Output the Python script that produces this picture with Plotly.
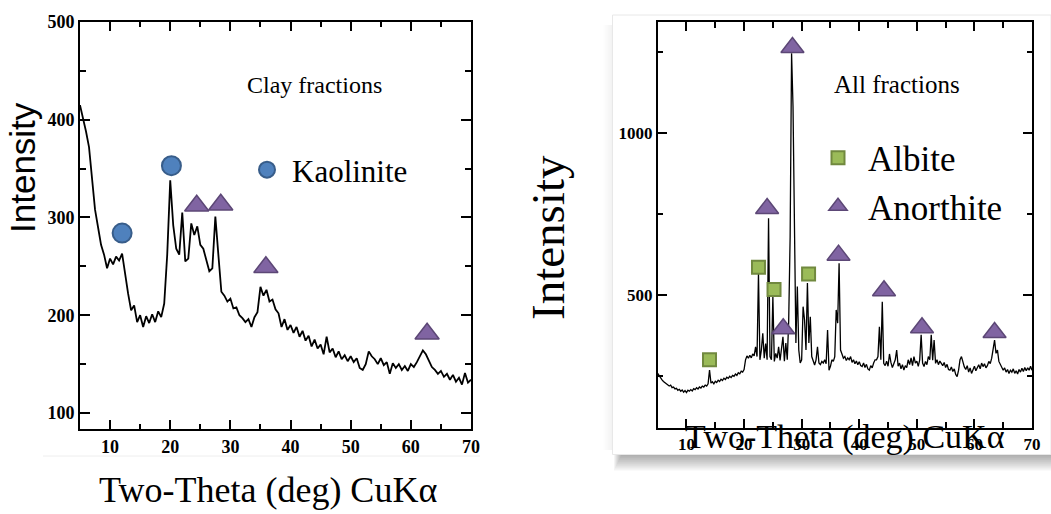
import plotly.graph_objects as go

# ---------------- DATA ----------------
# Left panel: clay fractions, 2-theta from 5 to 70 in 0.5 deg steps
clay_intensity = [
    415, 402,  # 5
    388, 372,  # 6
    340, 308,  # 7
    290, 272,  # 8
    262, 248,  # 9
    258, 252,  # 10
    260, 256,  # 11
    263, 240,  # 12
    222, 205,  # 13
    210, 193,  # 14
    200, 188,  # 15
    199, 192,  # 16
    201, 193,  # 17
    204, 198,  # 18
    212, 262,  # 19
    338, 292,  # 20
    268, 262,  # 21
    305, 255,  # 22
    258, 294,  # 23
    282, 291,  # 24
    272, 268,  # 25
    255, 245,  # 26
    248, 301,  # 27
    262, 224,  # 28
    220, 214,  # 29
    217, 207,  # 30
    208, 200,  # 31
    197, 193,  # 32
    196, 188,  # 33
    198, 203,  # 34
    229, 220,  # 35
    226, 214,  # 36
    216, 206,  # 37
    202, 188,  # 38
    196, 185,  # 39
    190, 182,  # 40
    188, 178,  # 41
    184, 174,  # 42
    179, 168,  # 43
    175, 166,  # 44
    170, 160,  # 45
    178, 162,  # 46
    166, 157,  # 47
    163, 155,  # 48
    159, 153,  # 49
    158, 152,  # 50
    156, 146,  # 51
    144, 150,  # 52
    163, 158,  # 53
    155, 150,  # 54
    156, 149,  # 55
    152, 140,  # 56
    151, 146,  # 57
    150, 144,  # 58
    148, 143,  # 59
    150, 147,  # 60
    152, 158,  # 61
    164, 160,  # 62
    153, 147,  # 63
    144, 140,  # 64
    143, 137,  # 65
    140, 134,  # 66
    139, 132,  # 67
    136, 129,  # 68
    141, 131,  # 69
    134,       # 70
]
clay_step = 0.5
clay_theta = [5 + clay_step * i for i in range(len(clay_intensity))]

# Right panel: all fractions, 2-theta from 5 to 70 in 0.25 deg steps
all_intensity = [
    258, 250, 246, 238,  # 5
    233, 230, 226, 224,  # 6
    219, 222, 214, 216,  # 7
    210, 212, 206, 209,  # 8
    203, 207, 200, 205,  # 9
    199, 206, 203, 208,  # 10
    204, 211, 208, 214,  # 11
    210, 216, 213, 219,  # 12
    216, 222, 219, 226,  # 13
    268, 228, 232, 226,  # 14
    234, 230, 237, 233,  # 15
    240, 236, 243, 239,  # 16
    246, 243, 249, 245,  # 17
    252, 249, 256, 252,  # 18
    260, 257, 265, 262,  # 19
    270, 300, 312, 305,  # 20
    314, 306, 318, 312,  # 21
    340, 310, 567, 300,  # 22
    330, 382, 305, 350,  # 23
    300, 737, 310, 300,  # 24
    495, 295, 320, 305,  # 25
    340, 298, 330, 371,  # 26
    296, 352, 300, 420,  # 27
    680, 1246, 1081, 598,  # 28
    352, 526, 330, 290,  # 29
    300, 464, 423, 330,  # 30
    537, 352, 433, 310,  # 31
    299, 284, 300, 340,  # 32
    290, 285, 295, 290,  # 33
    300, 288, 392, 268,  # 34
    280, 300, 295, 310,  # 35
    454, 413, 598, 330,  # 36
    318, 305, 310, 298,  # 37
    306, 300, 310, 292,  # 38
    300, 288, 296, 285,  # 39
    294, 282, 279, 290,  # 40
    276, 286, 272, 268,  # 41
    282, 275, 290, 300,  # 42
    300, 310, 402, 300,  # 43
    479, 289, 282, 296,  # 44
    280, 318, 292, 276,  # 45
    288, 300, 330, 280,  # 46
    290, 272, 285, 268,  # 47
    282, 276, 300, 285,  # 48
    306, 282, 310, 290,  # 49
    296, 280, 300, 377,  # 50
    290, 279, 295, 285,  # 51
    310, 300, 377, 299,  # 52
    361, 289, 300, 285,  # 53
    296, 289, 282, 292,  # 54
    276, 286, 270, 268,  # 55
    278, 264, 272, 255,  # 56
    248, 268, 300, 310,  # 57
    290, 278, 270, 282,  # 58
    262, 275, 258, 270,  # 59
    280, 266, 276, 285,  # 60
    272, 290, 279, 288,  # 61
    275, 282, 295, 288,  # 62
    305, 330, 361, 320,  # 63
    330, 295, 285, 278,  # 64
    268, 275, 262, 270,  # 65
    258, 268, 262, 272,  # 66
    258, 266, 256, 270,  # 67
    262, 274, 264, 276,  # 68
    266, 275, 268, 280,  # 69
    268,                 # 70
]
all_step = 0.25
all_theta = [5 + all_step * i for i in range(len(all_intensity))]

# Phase identification markers
clay_kaolinite_theta = [12.0, 20.2]
clay_kaolinite_int = [284, 353]
clay_anorthite_theta = [24.4, 28.4, 35.9, 62.7]
clay_anorthite_int = [312, 313, 249, 181]

all_albite_theta = [14.0, 22.5, 25.2, 31.2]
all_albite_int = [300, 586, 517, 565]
all_anorthite_theta = [24.0, 26.8, 28.4, 36.4, 44.3, 50.9, 63.5]
all_anorthite_int = [767, 396, 1264, 623, 513, 399, 384]

x_ticks = [10, 20, 30, 40, 50, 60, 70]
clay_y_ticks = [100, 200, 300, 400, 500]
all_y_ticks = [500, 1000]

# ---------------- STYLE ----------------
W, H = 1051, 514
SERIF = "Liberation Serif, Times New Roman, serif"
SANS = "Liberation Sans, Arial, sans-serif"
BLUE, BLUE_E = "#4F81BD", "#385D8A"
PURPLE, PURPLE_E = "#8064A2", "#5C4776"
GREEN, GREEN_E = "#9BBB59", "#71893F"


def px(x):
    return x / W


def py(y):
    return 1 - y / H


fig = go.Figure()

fig.add_trace(go.Scatter(x=clay_theta, y=clay_intensity, mode="lines",
                         line=dict(color="black", width=1.8),
                         xaxis="x", yaxis="y", showlegend=False, hoverinfo="skip"))
fig.add_trace(go.Scatter(x=clay_kaolinite_theta, y=clay_kaolinite_int, mode="markers",
                         name="Kaolinite", legend="legend",
                         marker=dict(symbol="circle", size=19, color=BLUE,
                                     line=dict(color=BLUE_E, width=2)),
                         xaxis="x", yaxis="y"))
fig.add_trace(go.Scatter(x=clay_anorthite_theta, y=clay_anorthite_int, mode="markers",
                         name="Anorthite", showlegend=False,
                         marker=dict(symbol="triangle-up", size=21, color=PURPLE,
                                     line=dict(color=PURPLE_E, width=1.5)),
                         xaxis="x", yaxis="y"))

fig.add_trace(go.Scatter(x=all_theta, y=all_intensity, mode="lines",
                         line=dict(color="black", width=1.3),
                         xaxis="x2", yaxis="y2", showlegend=False, hoverinfo="skip"))
fig.add_trace(go.Scatter(x=all_albite_theta, y=all_albite_int, mode="markers",
                         name="Albite", legend="legend2", legendgroup="ab",
                         marker=dict(symbol="square", size=13, color=GREEN,
                                     line=dict(color=GREEN_E, width=2)),
                         xaxis="x2", yaxis="y2"))
fig.add_trace(go.Scatter(x=all_anorthite_theta, y=all_anorthite_int, mode="markers",
                         name="Anorthite", legend="legend2", legendgroup="an",
                         marker=dict(symbol="triangle-up", size=20, color=PURPLE,
                                     line=dict(color=PURPLE_E, width=1.5)),
                         xaxis="x2", yaxis="y2"))

axis_common = dict(showline=True, linecolor="black", mirror="ticks", automargin=False,
                   ticks="inside", tickcolor="black", showgrid=False, zeroline=False)

fig.update_layout(
    width=W, height=H,
    margin=dict(l=0, r=0, t=0, b=0, pad=0, autoexpand=False),
    paper_bgcolor="white", plot_bgcolor="white",
    xaxis=dict(domain=[px(80), px(471)], range=[5, 70], tickvals=x_ticks,
               linewidth=2, ticklen=9, tickwidth=2,
               minor=dict(dtick=5, ticks="inside", ticklen=5, tickwidth=2, tickcolor="black"),
               tickfont=dict(family=SERIF, size=18, color="black", weight="bold"),
               anchor="y", **axis_common),
    yaxis=dict(domain=[py(429), py(22)], range=[83.6, 500], tickvals=clay_y_ticks,
               linewidth=2, ticklen=10, tickwidth=2,
               minor=dict(dtick=50, ticks="inside", ticklen=6, tickwidth=2, tickcolor="black"),
               tickfont=dict(family=SERIF, size=18, color="black", weight="bold"),
               anchor="x", **axis_common),
    xaxis2=dict(domain=[px(657.7), px(1032)], range=[5, 70], tickvals=x_ticks,
                linewidth=1.6, ticklen=9, tickwidth=1.6,
                minor=dict(dtick=5, ticks="inside", ticklen=6, tickwidth=1.6, tickcolor="black"),
                tickfont=dict(family=SERIF, size=17, color="black", weight="bold"),
                anchor="y2", **axis_common),
    yaxis2=dict(domain=[py(428), py(22)], range=[89.5, 1342.6], tickvals=all_y_ticks,
                linewidth=1.6, ticklen=9, tickwidth=1.6,
                minor=dict(dtick=250, ticks="inside", ticklen=5, tickwidth=1.6, tickcolor="black"),
                tickfont=dict(family=SERIF, size=17, color="black", weight="bold"),
                anchor="x2", **axis_common),
    legend=dict(x=px(242), y=py(170), xanchor="left", yanchor="middle",
                bgcolor="rgba(0,0,0,0)", itemwidth=40,
                font=dict(family=SERIF, size=31, color="black")),
    legend2=dict(x=px(808), y=py(182), xanchor="left", yanchor="middle",
                 bgcolor="rgba(0,0,0,0)", itemwidth=50, tracegroupgap=0,
                 font=dict(family=SERIF, size=35, color="black")),
)

# Frame with drop shadow behind the right panel
shapes = []
for k in range(1, 9):
    shapes.append(dict(type="rect", xref="paper", yref="paper", layer="below",
                       x0=px(622 - k), x1=1.0, y0=py(454.5 + k * 2), y1=py(40),
                       fillcolor="rgba(0,0,0,0.045)", line=dict(width=0)))
for k in range(1, 7):
    shapes.append(dict(type="rect", xref="paper", yref="paper", layer="below",
                       x0=px(612.5 - k * 1.5), x1=px(640), y0=py(450), y1=py(25),
                       fillcolor="rgba(0,0,0,0.008)", line=dict(width=0)))
shapes.append(dict(type="rect", xref="paper", yref="paper", layer="below",
                   x0=px(612.5), x1=1.0, y0=py(454.5), y1=py(15),
                   fillcolor="white", line=dict(color="#e8e8e8", width=1)))
# faint separator under left panel
shapes.append(dict(type="line", xref="paper", yref="paper", layer="below",
                   x0=px(43), x1=px(480), y0=py(456), y1=py(456),
                   line=dict(color="#eeeeee", width=1)))
fig.update_layout(shapes=shapes)

annotations = [
    dict(text="Intensity", x=px(23), y=py(168), textangle=-90,
         font=dict(family=SANS, size=35, color="black")),
    dict(text="Two-Theta (deg) CuKα", x=px(267.5), y=py(490),
         font=dict(family=SERIF, size=36, color="black")),
    dict(text="Clay fractions", x=px(314), y=py(85),
         font=dict(family=SERIF, size=24, color="black")),
    dict(text="Intensity", x=px(548), y=py(238), textangle=-90,
         font=dict(family=SERIF, size=47, color="black")),
    dict(text="Two-Theta (deg) CuKα", x=px(845), y=py(437),
         font=dict(family=SERIF, size=34, color="black")),
    dict(text="All fractions", x=px(897), y=py(85),
         font=dict(family=SERIF, size=25, color="black")),
]
for a in annotations:
    a.update(xref="paper", yref="paper", showarrow=False, xanchor="center", yanchor="middle")
fig.update_layout(annotations=annotations)

fig.write_html("out.html",
               config={"displayModeBar": False},
               post_script="document.body.style.margin='0px';document.body.style.padding='0px';")
